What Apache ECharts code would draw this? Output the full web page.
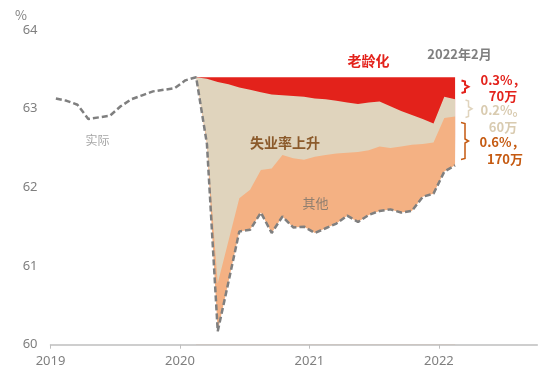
<!DOCTYPE html>
<html><head><meta charset="utf-8">
<script src="https://cdn.jsdelivr.net/npm/echarts@6/dist/echarts.min.js"></script>
<style>html,body{margin:0;padding:0;background:#fff}#c{width:542px;height:369px}</style>
</head><body><div id="c"></div>
<script>
// Monthly points, Jan 2019 - Feb 2022
const months = ['2019-01','2019-02','2019-03','2019-04','2019-05','2019-06','2019-07','2019-08','2019-09','2019-10','2019-11','2019-12',
  '2020-01','2020-02','2020-03','2020-04','2020-05','2020-06','2020-07','2020-08','2020-09','2020-10','2020-11','2020-12',
  '2021-01','2021-02','2021-03','2021-04','2021-05','2021-06','2021-07','2021-08','2021-09','2021-10','2021-11','2021-12',
  '2022-01','2022-02'];
// Actual participation rate (%)
const actual = [63.13,63.10,63.05,62.87,62.89,62.91,63.03,63.12,63.17,63.22,63.24,63.26,
  63.36,63.40,62.55,60.17,60.80,61.44,61.46,61.68,61.42,61.63,61.49,61.50,
  61.42,61.48,61.54,61.64,61.56,61.65,61.70,61.72,61.68,61.70,61.88,61.92,
  62.20,62.28];
// Decomposition from Feb 2020 onward: upper edge of "其他" and of "失业率上升"; pre-pandemic level
const decompStart = '2020-02';
const otherTop = [63.40,62.60,60.78,61.32,61.86,61.97,62.22,62.24,62.41,62.37,62.35,
  62.39,62.41,62.43,62.44,62.45,62.47,62.52,62.50,62.52,62.54,62.55,62.57,
  62.88,62.90];
const unempTop = [63.40,63.38,63.34,63.31,63.27,63.24,63.21,63.18,63.17,63.16,63.15,
  63.13,63.12,63.10,63.08,63.06,63.08,63.09,63.03,62.97,62.92,62.87,62.81,
  63.15,63.12];
const preLevel = 63.40;
const xTicks = [2019,2020,2021,2022];
const yTicks = [60,61,62,63,64];

function xOf(m){ const [y,mo]=m.split('-').map(Number); return y+(mo-0.5)/12; }
const si = months.indexOf(decompStart);
const dm = months.slice(si);
const baseVals = actual.slice(si);
const PAD = 0.02; // small overhang of the white mask so band edges leave no seam

const FONT = "'Noto Sans','Noto Sans CJK SC',sans-serif";
const CJK = "'Noto Sans CJK SC',sans-serif";
const chart = echarts.init(document.getElementById('c'));
function bandData(vals){ return dm.map((m,i)=>[xOf(m), Array.isArray(vals)?vals[i]:vals]); }
function band(name, data, color, z){
  return {name:name, type:'line', symbol:'none', silent:true, z:z, data:data,
    lineStyle:{width:0, opacity:0},
    areaStyle:{color:color, opacity:1, origin:'start'}};
}
const maskData = [[xOf(dm[0])-PAD, preLevel]].concat(bandData(baseVals), [[xOf(dm[dm.length-1])+PAD, preLevel]]);
function bracket(x0,x1,x2,top,bot,color,w){
  const mid=(top+bot)/2;
  return {type:'polyline', silent:true, z:10,
    shape:{points:[[x0,top],[x1,top+1],[x1,mid-2],[x2,mid],[x1,mid+2],[x1,bot-1],[x0,bot]]},
    style:{stroke:color, lineWidth:w, fill:null}};
}
function txt(t,x,y,color,size,bold,align){
  return {type:'text', silent:true, z:10, style:{text:t, x:x, y:y, fill:color,
    font:(bold?'bold ':'')+size+'px '+CJK, align:align||'center', verticalAlign:'middle'}};
}
chart.setOption({
  animation:false,
  grid:{left:50.5, right:4.7, top:30, bottom:24.3},
  xAxis:{type:'value', min:2019, max:2022.76, interval:1, z:10,
    axisLine:{lineStyle:{color:'#bfbfbf', width:1.5}},
    axisTick:{show:true, length:4, customValues:xTicks, lineStyle:{color:'#bfbfbf'}},
    axisLabel:{customValues:xTicks, formatter:v=>String(v), color:'#7f7f7f', fontSize:13, margin:10, fontFamily:FONT},
    splitLine:{show:false}},
  yAxis:{type:'value', min:60, max:64, interval:1,
    axisLine:{show:false}, axisTick:{show:false}, splitLine:{show:false},
    axisLabel:{customValues:yTicks, formatter:v=>String(v), color:'#7f7f7f', fontSize:13, margin:13, fontFamily:FONT}},
  series:[
    band('老龄化', bandData(preLevel), '#e3221b', 1),
    band('失业率上升', bandData(unempTop), '#e0d4bd', 2),
    band('其他', bandData(otherTop), '#f4b183', 3),
    band('mask', maskData, '#ffffff', 4),
    {name:'实际', type:'line', symbol:'none', z:5, silent:true,
      data:months.map((m,i)=>[xOf(m), actual[i]]),
      lineStyle:{color:'#7f7f7f', width:2.5, type:[6,3]}}
  ],
  graphic:[
    txt('%',21,15,'#7f7f7f',13,false),
    txt('实际',97.5,140,'#a6a6a6',12,false),
    txt('老龄化',368.5,61,'#e3221b',14,true),
    txt('2022年2月',459.5,54,'#7f7f7f',13,true),
    txt('失业率上升',285,142.5,'#8b5a2b',14,true),
    txt('其他',315.5,203,'#8f7f70',13,false),
    bracket(461.5,465,468.5,80.5,93,'#e3221b',2),
    bracket(465.5,468.5,472,100,117.5,'#e0d4bd',1.5),
    bracket(461,465,468.5,122.5,159.5,'#c55a11',1.5),
    txt('0.3%，',503,80,'#e3221b',13,true),
    txt('70万',503,96,'#e3221b',13,true),
    txt('0.2%。',503,110,'#d9cbb0',13,true),
    txt('60万',503,127.5,'#d9cbb0',13,true),
    txt('0.6%，',502,142.5,'#c55a11',13,true),
    txt('170万',505,159,'#c55a11',13,true)
  ]
});
</script></body></html>
